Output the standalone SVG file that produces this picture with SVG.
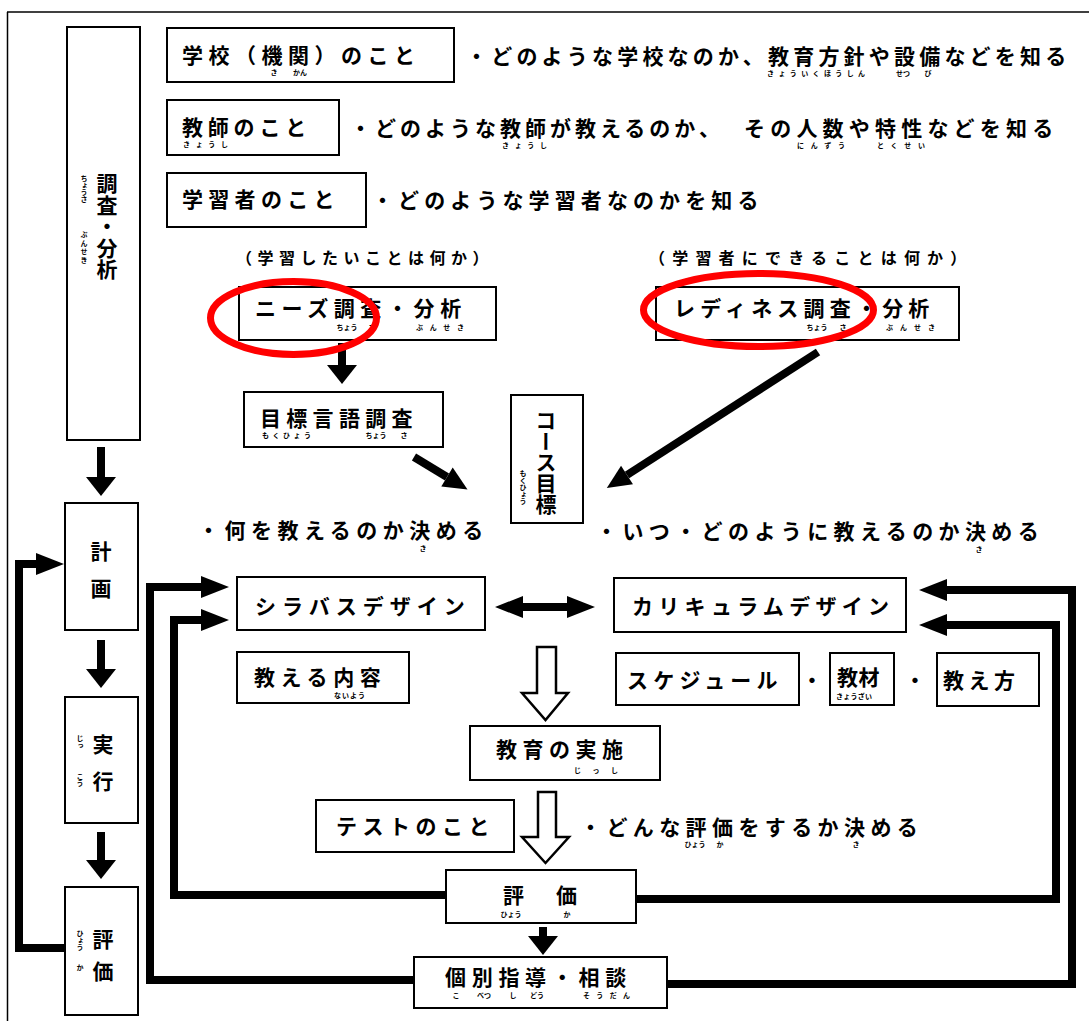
<svg xmlns="http://www.w3.org/2000/svg" width="1089" height="1021" viewBox="0 0 1089 1021">
<style>
.t{font-family:"Noto Sans CJK JP","Noto Sans CJK SC",sans-serif;font-weight:700;font-size:21px;fill:#000}
.s{font-size:16px}
.f{font-family:"Noto Sans CJK JP","Noto Sans CJK SC",sans-serif;font-weight:700;font-size:7px;fill:#000}
.fm{text-anchor:middle}
.v{writing-mode:vertical-rl}
.c{text-anchor:middle}
.box{fill:#fff;stroke:#000;stroke-width:2}
.conn{fill:none;stroke:#000;stroke-width:8}
.hollow{fill:#fff;stroke:#000;stroke-width:2.5;stroke-linejoin:miter}
.red{fill:none;stroke:#f00;stroke-width:7}
</style>
<defs>
<marker id="head" markerUnits="userSpaceOnUse" viewBox="0 -12 30 24" markerWidth="30" markerHeight="24" refX="0" refY="0" orient="auto-start-reverse" overflow="visible">
<path d="M0,-11 L28,0 L0,11 Z" fill="#000"/>
</marker>
<marker id="headS" markerUnits="userSpaceOnUse" viewBox="0 -16 20 32" markerWidth="20" markerHeight="32" refX="0" refY="0" orient="auto" overflow="visible">
<path d="M0,-15 L19,0 L0,15 Z" fill="#000"/>
</marker>
<marker id="headD" markerUnits="userSpaceOnUse" viewBox="0 -12 26 24" markerWidth="26" markerHeight="24" refX="0" refY="0" orient="auto" overflow="visible">
<path d="M0,-11 L24,0 L0,11 Z" fill="#000"/>
</marker>
</defs>
<rect width="1089" height="1021" fill="#fff"/>
<g id="frame">
<line x1="7" y1="12" x2="1089" y2="12" stroke="#000" stroke-width="1.5"/>
<line x1="7.5" y1="12" x2="7.5" y2="1021" stroke="#000" stroke-width="1.5"/>
</g>

<g id="connectors">
<path class="conn" stroke-width="9" d="M101,447 V477" marker-end="url(#headS)"/>
<path class="conn" stroke-width="9" d="M101,640 V669" marker-end="url(#headS)"/>
<path class="conn" stroke-width="9" d="M101,832 V860" marker-end="url(#headS)"/>
<path class="conn" d="M66,948 H19 V564 H36" marker-end="url(#head)"/>
<path class="conn" stroke-width="12" d="M342,343 V365" marker-end="url(#headS)"/>
<path class="conn" stroke-width="7" d="M414,457 L447,477" marker-end="url(#headD)"/>
<path class="conn" stroke-width="6" d="M818,352 L627,475" marker-end="url(#headD)"/>
<path class="conn" stroke-width="7" d="M523,607 H567" marker-start="url(#head)" marker-end="url(#head)"/>
<path class="hollow" d="M537,647 H556 V693 H568 L545.5,720 L522,693 H537 Z"/>
<path class="hollow" d="M538,792 H556 V837 H569 L545.5,863 L522,837 H538 Z"/>
<path class="conn" stroke-width="11" d="M543,927 V936" marker-end="url(#headS)"/>
<path class="conn" d="M414,980 H150 V587 H201" marker-end="url(#head)"/>
<path class="conn" d="M446,895 H174 V620 H201" marker-end="url(#head)"/>
<path class="conn" d="M667,984 H1072 V590 H947" marker-end="url(#head)"/>
<path class="conn" d="M636,899 H1056 V625 H947" marker-end="url(#head)"/>
</g>

<g id="node-chousa">
<rect class="box" x="67" y="27" width="73" height="413"/>
<text class="t v" x="107" y="173" font-size="18.5" letter-spacing="0.5">調査・分析</text>
<text class="f v" x="84" y="175" font-size="6.5">ちょうさ</text>
<text class="f v" x="84" y="231" letter-spacing="1.5">ぶんせき</text>
</g>
<g id="node-keikaku">
<rect class="box" x="65" y="503" width="73" height="127"/>
<text class="t c" x="101" y="559" font-size="20">計</text>
<text class="t c" x="101" y="596" font-size="20">画</text>
</g>
<g id="node-jikkou">
<rect class="box" x="65" y="697" width="73" height="126"/>
<text class="t c" x="103" y="752" font-size="20">実</text>
<text class="t c" x="103" y="789" font-size="20">行</text>
<text class="f v" x="80" y="735" font-size="6.5">じっ</text>
<text class="f v" x="80" y="773" font-size="6.5">こう</text>
</g>
<g id="node-hyouka-left">
<rect class="box" x="65" y="887" width="73" height="128"/>
<text class="t c" x="103" y="947" font-size="20">評</text>
<text class="t c" x="103" y="979" font-size="20">価</text>
<text class="f v" x="80" y="930" font-size="6.5">ひょう</text>
<text class="f v" x="80" y="964" font-size="6.5">か</text>
</g>

<g id="node-gakkou">
<rect class="box" x="167" y="28" width="287" height="54"/>
<text class="t" x="182" y="63" letter-spacing="5.5">学校（機関）のこと</text>
<text class="f fm" x="274" y="75">き</text>
<text class="f fm" x="300" y="75">かん</text>
</g>
<g id="text-gakkou">
<text class="t" x="466" y="64" letter-spacing="4.2">・どのような学校なのか、教育方針や設備などを知る</text>
<text class="f" x="767" y="76" textLength="98" lengthAdjust="spacing">きょういくほうしん</text>
<text class="f fm" x="903" y="76">せつ</text>
<text class="f fm" x="928" y="76">び</text>
</g>
<g id="node-kyoushi">
<rect class="box" x="167" y="100" width="172" height="55"/>
<text class="t" x="182" y="135" letter-spacing="4.8">教師のこと</text>
<text class="f" x="183" y="147" textLength="45" lengthAdjust="spacing">きょうし</text>
</g>
<g id="text-kyoushi">
<text class="t" x="350" y="136" letter-spacing="4">・どのような教師が教えるのか、</text>
<text class="t" x="744" y="136" letter-spacing="5.2">その人数や特性などを知る</text>
<text class="f" x="502" y="148" textLength="45" lengthAdjust="spacing">きょうし</text>
<text class="f" x="797" y="148" textLength="48" lengthAdjust="spacing">にんずう</text>
<text class="f" x="877" y="148" textLength="48" lengthAdjust="spacing">とくせい</text>
</g>
<g id="node-gakushuusha">
<rect class="box" x="167" y="173" width="199" height="54"/>
<text class="t" x="182" y="207" letter-spacing="5.3">学習者のこと</text>
</g>
<g id="text-gakushuusha">
<text class="t" x="372" y="208" letter-spacing="5.1">・どのような学習者なのかを知る</text>
</g>

<g id="label-needs-q">
<text class="t s" x="236" y="264" letter-spacing="5.5">（学習したいことは何か）</text>
</g>
<g id="label-readiness-q">
<text class="t s" x="649" y="264" letter-spacing="7.2">（学習者にできることは何か）</text>
</g>

<g id="node-needs">
<rect class="box" x="239" y="287" width="257" height="53"/>
<text class="t" x="255" y="316" letter-spacing="5.6">ニーズ調査・分析</text>
<text class="f fm" x="347" y="330">ちょう</text>
<text class="f fm" x="372" y="330">さ</text>
<text class="f" x="416" y="330" textLength="48" lengthAdjust="spacing">ぶんせき</text>
</g>
<g id="node-readiness">
<rect class="box" x="656" y="287" width="303" height="53"/>
<text class="t" x="674" y="316" letter-spacing="5.2">レディネス調査・分析</text>
<text class="f fm" x="817" y="330">ちょう</text>
<text class="f fm" x="843" y="330">さ</text>
<text class="f" x="886" y="330" textLength="49" lengthAdjust="spacing">ぶんせき</text>
</g>
<g id="node-mokuhyougengo">
<rect class="box" x="244" y="392" width="199" height="55"/>
<text class="t" x="260" y="426" letter-spacing="5.3">目標言語調査</text>
<text class="f" x="262" y="438" textLength="49" lengthAdjust="spacing">もくひょう</text>
<text class="f fm" x="376" y="438">ちょう</text>
<text class="f fm" x="404" y="438">さ</text>
</g>
<g id="node-course">
<rect class="box" x="511" y="395" width="72" height="128"/>
<text class="t v" x="546" y="410" font-size="19.5">コース目標</text>
<text class="f v" x="523" y="470">もくひょう</text>
</g>

<g id="text-nani">
<text class="t" x="198" y="538" letter-spacing="5.5">・何を教えるのか決める</text>
<text class="f fm" x="423" y="551">き</text>
</g>
<g id="text-itsu">
<text class="t" x="596" y="539" letter-spacing="5.4">・いつ・どのように教えるのか決める</text>
<text class="f fm" x="979" y="552">き</text>
</g>

<g id="node-syllabus">
<rect class="box" x="237" y="577" width="248" height="53"/>
<text class="t" x="255" y="614" letter-spacing="6">シラバスデザイン</text>
</g>
<g id="node-curriculum">
<rect class="box" x="614" y="578" width="292" height="54"/>
<text class="t" x="632" y="614" letter-spacing="5.3">カリキュラムデザイン</text>
</g>
<g id="node-naiyou">
<rect class="box" x="237" y="652" width="172" height="51"/>
<text class="t" x="254" y="685" letter-spacing="5.6">教える内容</text>
<text class="f" x="334" y="698" textLength="31" lengthAdjust="spacing">ないよう</text>
</g>
<g id="node-schedule">
<rect class="box" x="616" y="653" width="183" height="52"/>
<text class="t" x="627" y="688" letter-spacing="5.2">スケジュール</text>
</g>
<g id="text-dot1"><text class="t c" x="812" y="688">・</text></g>
<g id="node-kyouzai">
<rect class="box" x="830" y="653" width="64" height="52"/>
<text class="t" x="837" y="685" font-size="20" letter-spacing="0.5">教材</text>
<text class="f" x="836" y="699" textLength="36" lengthAdjust="spacing">きょうざい</text>
</g>
<g id="text-dot2"><text class="t c" x="915" y="688">・</text></g>
<g id="node-oshiekata">
<rect class="box" x="937" y="653" width="102" height="53"/>
<text class="t" x="943" y="688" letter-spacing="4.5">教え方</text>
</g>

<g id="node-jisshi">
<rect class="box" x="470" y="726" width="190" height="54"/>
<text class="t" x="496" y="757" letter-spacing="5.5">教育の実施</text>
<text class="f" x="574" y="773" textLength="44" lengthAdjust="spacing">じっし</text>
</g>
<g id="node-test">
<rect class="box" x="316" y="800" width="198" height="52"/>
<text class="t" x="336" y="834" letter-spacing="5.5">テストのこと</text>
</g>
<g id="text-donna">
<text class="t" x="580" y="835" letter-spacing="5.4">・どんな評価をするか決める</text>
<text class="f fm" x="695" y="847">ひょう</text>
<text class="f fm" x="720" y="847">か</text>
<text class="f fm" x="856" y="847">き</text>
</g>
<g id="node-hyouka">
<rect class="box" x="446" y="870" width="190" height="53"/>
<text class="t" x="503" y="903" letter-spacing="5.5">評　価</text>
<text class="f fm" x="511" y="917">ひょう</text>
<text class="f fm" x="567" y="917">か</text>
</g>
<g id="node-kobetsu">
<rect class="box" x="414" y="957" width="253" height="51"/>
<text class="t" x="445" y="985" letter-spacing="5.7">個別指導・相談</text>
<text class="f fm" x="456" y="998">こ</text>
<text class="f fm" x="484" y="998">べつ</text>
<text class="f fm" x="513" y="998">し</text>
<text class="f fm" x="537" y="998">どう</text>
<text class="f" x="583" y="998" textLength="47" lengthAdjust="spacing">そうだん</text>
</g>

<g id="highlights">
<ellipse class="red" cx="293.5" cy="318" rx="83" ry="36.5"/>
<ellipse class="red" cx="758.5" cy="310" rx="115" ry="36.5"/>
</g>
</svg>
